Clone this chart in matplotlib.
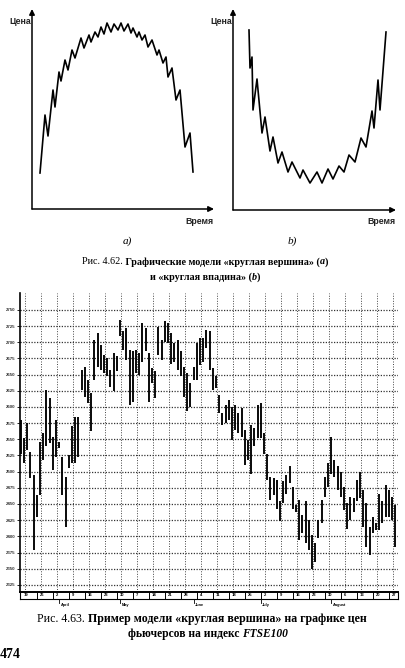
import matplotlib
matplotlib.use("Agg")
import matplotlib.pyplot as plt
import numpy as np

W, H = 405, 668

# --- schematic a: "round top" (time / price in arbitrary units) ---
top_t = [8, 13, 16, 21, 23, 27, 29, 33, 36, 40, 43, 49, 52, 57, 59, 63, 66, 69, 72, 75,
         79, 82, 86, 89, 92, 96, 99, 101, 105, 107, 110, 113, 116, 120, 125, 127, 131,
         134, 136, 140, 144, 148, 153, 158, 161]
top_p = [36, 94, 73, 119, 102, 137, 128, 149, 139, 159, 151, 171, 161, 174, 167, 177, 172,
         182, 175, 186, 177, 185, 179, 186, 178, 185, 176, 181, 172, 177, 169, 174, 162,
         169, 154, 159, 146, 152, 132, 141, 109, 119, 62, 76, 37]

# --- schematic b: "round bottom" ---
bot_t = [16, 17, 19, 20, 24, 29, 32, 37, 40, 45, 49, 55, 59, 67, 70, 77, 84, 89, 95, 100,
         106, 111, 116, 122, 128, 133, 139, 141, 145, 147, 153]
bot_p = [180, 142, 153, 100, 131, 77, 93, 59, 73, 47, 58, 38, 48, 32, 40, 27, 38, 27, 41,
         31, 44, 38, 55, 48, 72, 63, 99, 82, 130, 100, 178]

# --- FTSE100 futures, daily high / low ---
highs = [2580, 2552, 2575, 2531, 2495, 2464, 2546, 2559, 2626, 2613, 2554, 2580, 2546, 2523,
         2492, 2526, 2570, 2585, 2585, 2657, 2662, 2642, 2621, 2704, 2714, 2696, 2680, 2675,
         2657, 2683, 2678, 2735, 2717, 2722, 2688, 2686, 2688, 2683, 2729, 2722, 2683, 2660,
         2655, 2724, 2704, 2732, 2729, 2714, 2698, 2704, 2686, 2662, 2652, 2637, 2662, 2698,
         2706, 2706, 2719, 2717, 2660, 2647, 2619, 2590, 2603, 2611, 2600, 2603, 2590, 2598,
         2565, 2549, 2572, 2567, 2603, 2606, 2559, 2528, 2492, 2490, 2487, 2454, 2485, 2495,
         2508, 2477, 2448, 2456, 2433, 2454, 2425, 2402, 2389, 2425, 2456, 2492, 2513, 2554,
         2518, 2508, 2500, 2477, 2451, 2461, 2459, 2487, 2500, 2472, 2451, 2415, 2430, 2420,
         2466, 2454, 2479, 2472, 2461, 2448]
lows = [2528, 2513, 2534, 2490, 2379, 2430, 2464, 2518, 2539, 2544, 2503, 2523, 2536, 2464,
        2415, 2505, 2513, 2513, 2523, 2626, 2616, 2606, 2562, 2642, 2662, 2657, 2652, 2647,
        2631, 2624, 2655, 2709, 2688, 2673, 2603, 2608, 2652, 2650, 2670, 2686, 2608, 2637,
        2613, 2680, 2673, 2701, 2698, 2667, 2670, 2657, 2647, 2616, 2593, 2600, 2642, 2642,
        2665, 2670, 2691, 2657, 2626, 2629, 2590, 2572, 2575, 2580, 2549, 2565, 2559, 2554,
        2510, 2518, 2497, 2539, 2552, 2552, 2528, 2487, 2456, 2464, 2443, 2423, 2451, 2466,
        2482, 2443, 2438, 2395, 2405, 2389, 2379, 2350, 2361, 2397, 2420, 2461, 2477, 2497,
        2492, 2472, 2461, 2441, 2412, 2425, 2438, 2454, 2459, 2415, 2384, 2371, 2405, 2410,
        2410, 2420, 2430, 2430, 2425, 2384]
price_ticks = list(range(2325, 2751, 25))
week_labels = ["19", "26", "2", "9", "16", "23", "30", "7", "14", "21", "28", "4",
               "11", "18", "25", "2", "9", "16", "23", "30", "6", "13", "20", "27"]
month_names = ["April", "May", "June", "July", "August"]
month_start = [12, 31, 54, 75, 97]


def box(l, t, r, b):
    return [l / W, 1 - b / H, (r - l) / W, (b - t) / H]


def put(x, y, s, **kw):
    return fig.text(x / W, 1 - y / H, s, **kw)


def mixed_line(y, parts, size, xc=W / 2):
    # parts: (text, weight, style); centred as one line
    r = fig.canvas.get_renderer()
    objs, widths = [], []
    for s, wt, st in parts:
        t = put(0, y, s, fontsize=size, family="Liberation Serif", weight=wt,
                style=st, va="center", ha="left")
        objs.append(t)
        widths.append(t.get_window_extent(r).width)
    x = xc - sum(widths) / 2
    for t, w in zip(objs, widths):
        t.set_x(x / W)
        x += w


def schematic(ax, t, p, xmax, ymax):
    ax.set_xlim(0, xmax)
    ax.set_ylim(0, ymax)
    ax.axis("off")
    arrow = dict(arrowstyle="-|>", lw=1.1, color="black", mutation_scale=8,
                 shrinkA=0, shrinkB=0)
    ax.annotate("", xy=(0, 1), xytext=(0, 0), xycoords="axes fraction", arrowprops=arrow)
    ax.annotate("", xy=(1, 0), xytext=(0, 0), xycoords="axes fraction", arrowprops=arrow)
    ax.plot(t, p, color="black", lw=1.2, clip_on=False)


fig = plt.figure(figsize=(W / 100, H / 100), dpi=100)
fig.patch.set_facecolor("white")

ax_a = fig.add_axes(box(32, 9, 214, 209))
schematic(ax_a, top_t, top_p, 182, 200)
ax_b = fig.add_axes(box(233, 9, 396, 210))
schematic(ax_b, bot_t, bot_p, 163, 201)

sans = dict(family="Liberation Sans", fontsize=6.3, weight="bold", color="#222")
put(31, 22, "Цена", ha="right", va="center", **sans)
put(232, 22, "Цена", ha="right", va="center", **sans)
put(213, 221, "Время", ha="right", va="center", **sans)
put(396, 221, "Время", ha="right", va="center", **sans)

put(127, 241, "a)", ha="center", va="center", family="Liberation Serif",
    style="italic", fontsize=8)
put(292, 241, "b)", ha="center", va="center", family="Liberation Serif",
    style="italic", fontsize=8)

mixed_line(262, [("Рис. 4.62.", "normal", "normal"),
                 (" Графические модели «круглая вершина» (", "bold", "normal"),
                 ("a", "bold", "italic"), (")", "bold", "normal")], 7.3, 205)
mixed_line(277, [("и «круглая впадина» (", "bold", "normal"),
                 ("b", "bold", "italic"), (")", "bold", "normal")], 7.3, 205)

# --- bar chart ---
ax = fig.add_axes(box(20, 293, 398, 592))
x = np.arange(len(highs))
ax.set_xlim(-0.22, 117.9)
ax.set_ylim(2314, 2776)
for k in range(24):
    ax.axvline(1.35 + 5 * k, color="#444", lw=0.7, ls=(0, (1, 1.6)), zorder=1)
for p in price_ticks:
    ax.axhline(p, color="#333", lw=0.9, ls=(0, (1, 1.2)), zorder=1)
ax.vlines(x, lows, highs, color="black", lw=1.35, zorder=3)
for s in ["top", "right", "bottom"]:
    ax.spines[s].set_visible(False)
ax.spines["left"].set_linewidth(1.2)
ax.set_xticks([])
ax.set_yticks(price_ticks)
ax.set_yticklabels([str(p) for p in price_ticks], fontsize=3.2, family="Liberation Sans",
                   weight="bold", color="#333")
ax.tick_params(axis="y", length=2, width=0.6, pad=1)

# date strip under the chart
st = fig.add_axes(box(20, 592, 398, 599))
st.set_xlim(-0.22, 117.9)
st.set_ylim(0, 1)
st.set_xticks([])
st.set_yticks([])
for s in st.spines.values():
    s.set_linewidth(0.8)
st.spines["top"].set_linewidth(1.4)
for k, lab in enumerate(week_labels):
    if k > 0:
        st.axvline(5 * k - 0.05, color="black", lw=0.7)
    st.text(5 * k + 0.9, 0.5, lab, fontsize=3, family="Liberation Sans", weight="bold",
            va="center", ha="left", clip_on=True)
for m, i in zip(month_names, month_start):
    st.plot([i, i], [0, -0.5], color="black", lw=0.6, clip_on=False)
    st.text(i + 0.5, -0.9, m, fontsize=2.8, family="Liberation Sans", weight="bold",
            va="center", ha="left")

mixed_line(619, [("Рис. 4.63.", "normal", "normal"),
                 (" Пример модели «круглая вершина» на графике цен", "bold", "normal")],
           8.6, 202)
mixed_line(634, [("фьючерсов на индекс ", "bold", "normal"),
                 ("FTSE100", "bold", "italic")], 8.3, 208)
put(0, 655, "474", ha="left", va="center", family="Liberation Serif", weight="bold",
    fontsize=10)

fig.savefig("out.png", dpi=100)
